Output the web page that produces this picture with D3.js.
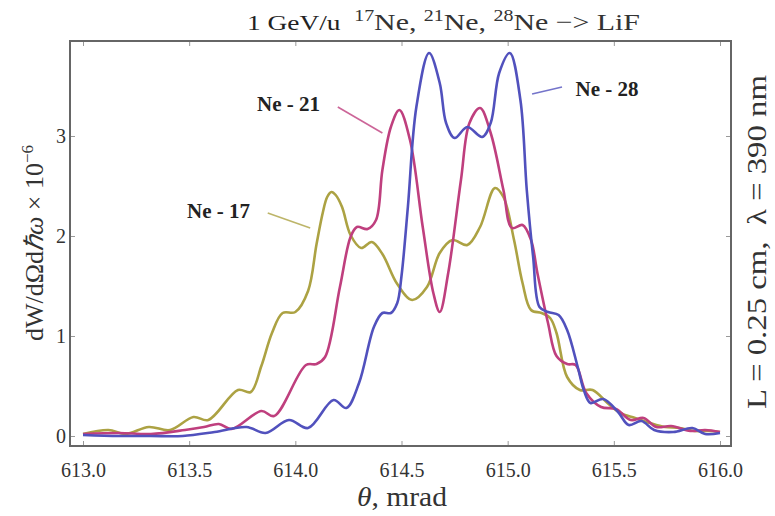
<!DOCTYPE html>
<html>
<head>
<meta charset="utf-8">
<script src="https://cdn.jsdelivr.net/npm/d3@7"></script>
<style>
  body { margin: 0; background: #fff; }
  svg { display: block; font-family: "Liberation Serif", "Times New Roman", serif; }
  .tick text { font-family: "Liberation Serif", "Times New Roman", serif; font-size: 20px; fill: #333; }
  .tick line { stroke: #999; }
</style>
</head>
<body>
<svg id="chart" width="775" height="516"></svg>
<script>
'use strict';

// theta, mrad
var ne17Theta = [613.00, 613.12, 613.20, 613.31, 613.41, 613.52, 613.59, 613.73, 613.79, 613.84,
  613.89, 613.94, 614.00, 614.06, 614.10, 614.13, 614.15, 614.17, 614.19, 614.22, 614.26, 614.31,
  614.36, 614.41, 614.48, 614.55, 614.62, 614.68, 614.74, 614.81, 614.87, 614.94, 614.98, 615.03,
  615.07, 615.11, 615.16, 615.20, 615.23, 615.28, 615.34, 615.40, 615.47, 615.53, 615.60, 615.67,
  615.74, 615.81, 615.88, 615.95, 616.00];
var ne17Values = [0.02, 0.06, 0.02, 0.09, 0.06, 0.19, 0.16, 0.46, 0.44, 0.70,
  1.03, 1.23, 1.24, 1.45, 1.92, 2.24, 2.39, 2.44, 2.41, 2.29, 2.01, 1.88,
  1.94, 1.82, 1.52, 1.36, 1.49, 1.83, 1.96, 1.91, 2.09, 2.48, 2.39, 1.96,
  1.53, 1.26, 1.23, 1.18, 1.03, 0.59, 0.46, 0.46, 0.33, 0.23, 0.18, 0.13,
  0.09, 0.08, 0.05, 0.05, 0.04];

var ne21Theta = [613.00, 613.17, 613.32, 613.48, 613.57, 613.64, 613.70, 613.84, 613.90, 614.05,
  614.10, 614.14, 614.21, 614.26, 614.29, 614.34, 614.38, 614.41, 614.45, 614.49, 614.54, 614.60,
  614.65, 614.68, 614.72, 614.78, 614.82, 614.87, 614.92, 614.98, 615.02, 615.07, 615.11, 615.14,
  615.19, 615.23, 615.28, 615.32, 615.37, 615.44, 615.51, 615.58, 615.64, 615.70, 615.77, 615.86,
  615.93, 616.00];
var ne21Values = [0.02, 0.03, 0.02, 0.06, 0.09, 0.12, 0.07, 0.25, 0.20, 0.71,
  0.72, 0.79, 1.49, 1.99, 2.09, 2.07, 2.16, 2.66, 3.09, 3.26, 2.96, 2.09,
  1.43, 1.24, 1.63, 2.56, 3.13, 3.28, 3.03, 2.46, 2.08, 2.11, 1.96, 1.63,
  1.13, 0.80, 0.72, 0.71, 0.43, 0.29, 0.27, 0.16, 0.18, 0.09, 0.10, 0.05,
  0.06, 0.04];

var ne28Theta = [613.00, 613.17, 613.32, 613.47, 613.62, 613.77, 613.86, 613.97, 614.06, 614.18,
  614.24, 614.30, 614.37, 614.41, 614.45, 614.48, 614.50, 614.53, 614.57, 614.63, 614.68, 614.71,
  614.75, 614.81, 614.88, 614.92, 614.96, 615.01, 615.06, 615.09, 615.12, 615.15, 615.19, 615.24,
  615.28, 615.33, 615.36, 615.39, 615.45, 615.52, 615.57, 615.63, 615.69, 615.78, 615.87, 615.93,
  616.00];
var ne28Values = [0.01, 0.00, 0.00, 0.00, 0.04, 0.09, 0.03, 0.16, 0.08, 0.36,
  0.28, 0.53, 1.09, 1.23, 1.23, 1.33, 1.60, 2.29, 3.29, 3.83, 3.53, 3.13,
  2.98, 3.09, 2.99, 3.13, 3.63, 3.83, 3.36, 2.46, 1.79, 1.29, 1.24, 1.21,
  1.06, 0.69, 0.45, 0.33, 0.37, 0.24, 0.11, 0.15, 0.06, 0.04, 0.08, 0.02,
  0.03];

var xTicks = [613.0, 613.5, 614.0, 614.5, 615.0, 615.5, 616.0];
var yTicks = [0, 1, 2, 3];

var seriesNames = ['Ne - 17', 'Ne - 21', 'Ne - 28'];
var seriesColors = ['#aca243', '#bf3f7e', '#5151bd'];

// label anchor and leader line, in data units
var labelPos = [[613.49, 2.18], [613.82, 3.25], [615.32, 3.40]];
var leaderFrom = [[613.87, 2.23], [614.20, 3.29], [615.115, 3.42]];
var leaderTo = [[614.07, 2.08], [614.41, 3.03], [615.256, 3.49]];

var serif = '"Liberation Serif", "Times New Roman", serif';

var svg = d3.select('#chart'),
    frame = {left: 70, right: 731, top: 41, bottom: 446},
    x, y, line, series;

x = d3.scaleLinear().domain([613, 616]).range([83, 720]);
y = d3.scaleLinear().domain([0, 3]).range([436, 136]);

series = [
  {theta: ne17Theta, values: ne17Values},
  {theta: ne21Theta, values: ne21Values},
  {theta: ne28Theta, values: ne28Values}
];

line = d3.line()
    .x(function (d) { return x(d[0]); })
    .y(function (d) { return y(d[1]); })
    .curve(d3.curveCatmullRom.alpha(0.5));

function cleanAxis(g) {
  g.attr('font-family', serif).attr('font-size', 20);
  g.select('.domain').remove();
}

// axes, ticks pointing inward
svg.append('g')
    .attr('transform', 'translate(0,' + frame.bottom + ')')
    .call(d3.axisBottom(x).tickValues(xTicks).tickFormat(d3.format('.1f'))
        .tickSize(-5).tickPadding(17))
    .call(cleanAxis);

svg.append('g')
    .attr('transform', 'translate(0,' + frame.top + ')')
    .call(d3.axisTop(x).tickValues(xTicks).tickFormat('').tickSize(-5))
    .call(cleanAxis);

svg.append('g')
    .attr('transform', 'translate(' + frame.left + ',0)')
    .call(d3.axisLeft(y).tickValues(yTicks).tickFormat(d3.format('d'))
        .tickSize(-5).tickPadding(4))
    .call(cleanAxis);

svg.append('g')
    .attr('transform', 'translate(' + frame.right + ',0)')
    .call(d3.axisRight(y).tickValues(yTicks).tickFormat('').tickSize(-5))
    .call(cleanAxis);

// curves
series.forEach(function (s, i) {
  var pts = s.theta.map(function (t, j) { return [t, s.values[j]]; });
  svg.append('path')
      .attr('d', line(pts))
      .attr('fill', 'none')
      .attr('stroke', seriesColors[i])
      .attr('stroke-width', 2.6)
      .attr('stroke-linejoin', 'round');
});

// frame
svg.append('rect')
    .attr('x', frame.left)
    .attr('y', frame.top)
    .attr('width', frame.right - frame.left)
    .attr('height', frame.bottom - frame.top)
    .attr('fill', 'none')
    .attr('stroke', '#666')
    .attr('stroke-width', 2);

// series labels
seriesNames.forEach(function (name, i) {
  svg.append('line')
      .attr('x1', x(leaderFrom[i][0])).attr('y1', y(leaderFrom[i][1]))
      .attr('x2', x(leaderTo[i][0])).attr('y2', y(leaderTo[i][1]))
      .attr('stroke', seriesColors[i])
      .attr('stroke-opacity', 0.8)
      .attr('stroke-width', 1.6);
  svg.append('text')
      .attr('x', x(labelPos[i][0]))
      .attr('y', y(labelPos[i][1]))
      .attr('font-family', serif)
      .attr('font-size', 21)
      .attr('font-weight', 'bold')
      .attr('fill', '#222')
      .text(name);
});

// title
var title = svg.append('text')
    .attr('x', 247)
    .attr('y', 30)
    .attr('font-family', serif)
    .attr('font-size', 24)
    .attr('fill', '#333')
    .attr('textLength', 393)
    .attr('lengthAdjust', 'spacingAndGlyphs')
    .attr('xml:space', 'preserve');
title.append('tspan').attr('fill', '#222').attr('font-size', 22).text('1 GeV/u  ');
[['17', 'Ne, '], ['21', 'Ne, '], ['28', 'Ne \u2212> LiF']].forEach(function (p) {
  title.append('tspan').attr('font-size', 16).attr('dy', -9).text(p[0]);
  title.append('tspan').attr('dy', 9).text(p[1]);
});

// y label
var yLabel = svg.append('text')
    .attr('transform', 'translate(43,243) rotate(-90)')
    .attr('text-anchor', 'middle')
    .attr('font-family', serif)
    .attr('font-size', 26)
    .attr('fill', '#333');
yLabel.append('tspan').text('dW/d\u03A9d');
yLabel.append('tspan').attr('font-style', 'italic').text('\u210F\u03C9');
yLabel.append('tspan').text(' \u00D7 10');
yLabel.append('tspan').attr('font-size', 17).attr('dy', -10).text('\u22126');

// right label
svg.append('text')
    .attr('transform', 'translate(766,242) rotate(-90)')
    .attr('text-anchor', 'middle')
    .attr('font-family', serif)
    .attr('font-size', 28)
    .attr('fill', '#333')
    .attr('textLength', 334)
    .attr('lengthAdjust', 'spacingAndGlyphs')
    .attr('xml:space', 'preserve')
    .text('L = 0.25 cm,  \u03BB = 390 nm');

// x label
var xLabel = svg.append('text')
    .attr('x', 402)
    .attr('y', 506)
    .attr('text-anchor', 'middle')
    .attr('font-family', serif)
    .attr('font-size', 27)
    .attr('fill', '#333')
    .attr('textLength', 90)
    .attr('lengthAdjust', 'spacingAndGlyphs');
xLabel.append('tspan').attr('font-style', 'italic').text('\u03B8');
xLabel.append('tspan').text(', mrad');
</script>
</body>
</html>
